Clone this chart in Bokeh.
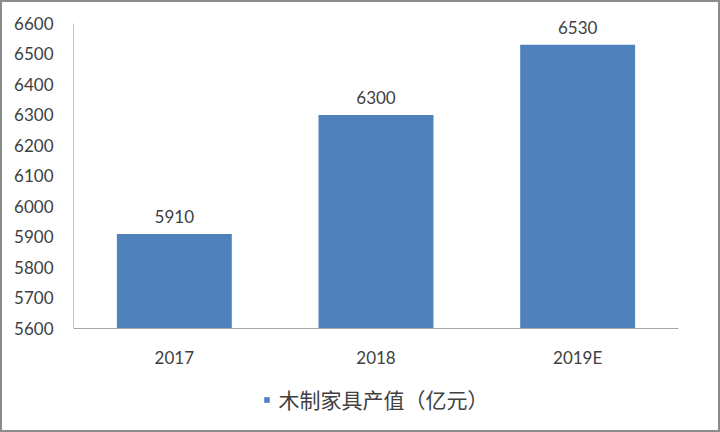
from bokeh.plotting import figure
from bokeh.layouts import column
from bokeh.models import (ColumnDataSource, Legend, LegendItem, FactorRange, Range1d,
                          SingleIntervalTicker, LabelSet)
from bokeh.core.properties import value
from bokeh.embed import file_html
from bokeh.resources import INLINE

years = ["2017", "2018", "2019E"]
values = [5910, 6300, 6530]
labels = ["5910", "6300", "6530"]
series_name = "木制家具产值（亿元）"
y_min, y_max, y_step = 5600, 6600, 100
y_view_top = 6665  # extra headroom above the axis so the top data label is not clipped

BAR = "#4F81BD"
TXT = "#404040"
FONT = "Lato"
W = 720
H_MAIN, H_LEG = 370, 62

src = ColumnDataSource(dict(x=years, top=values, lab=labels))

p = figure(x_range=FactorRange(*years, range_padding=0),
           y_range=Range1d(y_min, y_view_top),
           width=W, height=H_MAIN, output_backend="svg", toolbar_location=None,
           min_border_left=73, min_border_top=3, min_border_right=23, min_border_bottom=38)
p.outline_line_color = None
p.grid.grid_line_color = None
p.background_fill_alpha = 0
p.border_fill_alpha = 0

r = p.vbar(x="x", top="top", bottom=y_min, width=0.57, source=src,
           fill_color=BAR, line_color=None)

lbl = LabelSet(x="x", y="top", text="lab", source=src, text_align="center",
               text_baseline="bottom", y_offset=11, text_font_size="17px",
               text_color=TXT, text_font=value(FONT))
p.add_layout(lbl)

p.yaxis.ticker = SingleIntervalTicker(interval=y_step)
p.yaxis.bounds = (y_min, y_max)
p.yaxis.axis_line_color = "#c8c8c8"
p.yaxis.major_tick_line_color = None
p.yaxis.minor_tick_line_color = None
p.yaxis.major_label_standoff = 14
p.yaxis.major_label_text_font_size = "17px"
p.yaxis.major_label_text_color = TXT
p.yaxis.major_label_text_font = FONT

p.xaxis.axis_line_color = "#a6a6a6"
p.xaxis.major_tick_line_color = None
p.xaxis.minor_tick_line_color = None
p.xaxis.major_label_standoff = 12
p.xaxis.major_label_text_font_size = "17px"
p.xaxis.major_label_text_color = TXT
p.xaxis.major_label_text_font = FONT

# legend strip below the chart (same series; zero-width bars outside the strip's range)
lf = figure(x_range=FactorRange(*years), y_range=Range1d(0, y_min / 2),
            width=W, height=H_LEG, output_backend="svg", toolbar_location=None,
            x_axis_location=None, y_axis_location=None,
            min_border_left=0, min_border_right=42, min_border_top=0, min_border_bottom=4)
lf.outline_line_color = None
lf.grid.grid_line_color = None
lf.background_fill_alpha = 0
lf.border_fill_alpha = 0
lr = lf.vbar(x="x", top="top", bottom=y_min, width=0, source=src,
             fill_color=BAR, line_color=None)

legend = Legend(items=[LegendItem(label=series_name, renderers=[lr])],
                location="center", orientation="horizontal",
                label_text_font="Noto Sans CJK SC", label_text_font_size="21px",
                label_text_color=TXT, glyph_width=7, glyph_height=7,
                label_standoff=9, border_line_color=None, padding=2, margin=0,
                background_fill_alpha=0)
lf.add_layout(legend)

layout = column(p, lf, spacing=0,
                styles={"box-shadow": "inset 0 0 0 2px #8c8c8c",
                        "background-color": "white"})

open("out.html", "w").write(file_html(layout, INLINE))
